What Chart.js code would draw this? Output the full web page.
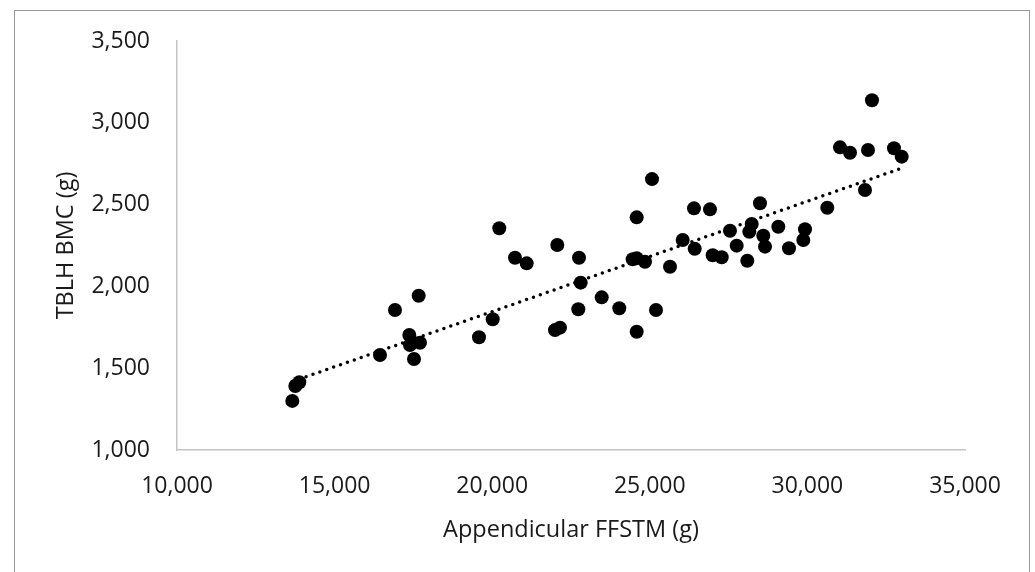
<!DOCTYPE html>
<html>
<head>
<meta charset="utf-8">
<script src="https://cdn.jsdelivr.net/npm/chart.js@4.4.1/dist/chart.umd.min.js"></script>
<style>
  html, body { margin: 0; padding: 0; background: #fff; }
  #wrap { position: relative; width: 1035px; height: 572px; overflow: hidden; }
  #frame { position: absolute; left: 14px; top: 10px; width: 1016px; height: 600px; border: 1px solid #9a9a9a; box-sizing: border-box; }
  #chart { position: absolute; left: 0; top: 0; }
</style>
</head>
<body>
<div id="wrap">
  <div id="frame"></div>
  <canvas id="chart" width="1035" height="572"></canvas>
</div>
<script>
// Appendicular FFSTM (g) on x, TBLH BMC (g) on y
const ffstm = [
  13658, 13753, 13880, 16440, 16916, 17370, 17392, 17519, 17709, 17668,
  19581, 20016, 20225, 20723, 21094, 21992, 22151, 22065, 22754, 22808,
  22732, 23474, 24032, 24584, 24584, 25070, 24457, 24584, 24848, 25197,
  25641, 26044, 26424, 26402, 26910, 26995, 27281, 27544, 27757, 28093,
  28157, 28233, 28496, 28601, 28655, 29077, 29416, 29870, 29924, 30631,
  31034, 31352, 31827, 31923, 32049, 32747, 32992
];
const bmc = [
  1300, 1391, 1414, 1581, 1856, 1703, 1642, 1556, 1656, 1943,
  1689, 1799, 2355, 2175, 2141, 1733, 1748, 2253, 2175, 2023,
  1860, 1933, 1866, 1723, 2422, 2656, 2166, 2172, 2151, 1856,
  2120, 2284, 2230, 2477, 2471, 2190, 2178, 2340, 2249, 2157,
  2334, 2381, 2508, 2310, 2243, 2365, 2233, 2284, 2349, 2481,
  2850, 2817, 2589, 2834, 3138, 2844, 2793
];

const xTicks = [10000, 15000, 20000, 25000, 30000, 35000];
const yTicks = [1000, 1500, 2000, 2500, 3000, 3500];

const points = ffstm.map((x, i) => ({ x: x, y: bmc[i] }));

// linear trendline (least squares)
const n = ffstm.length;
const mx = ffstm.reduce((a, b) => a + b, 0) / n;
const my = bmc.reduce((a, b) => a + b, 0) / n;
let sxy = 0, sxx = 0;
for (let i = 0; i < n; i++) {
  sxy += (ffstm[i] - mx) * (bmc[i] - my);
  sxx += (ffstm[i] - mx) * (ffstm[i] - mx);
}
const slope = sxy / sxx;
const icpt = my - slope * mx;
const xMin = Math.min(...ffstm), xMax = Math.max(...ffstm);
const trend = [
  { x: xMin, y: icpt + slope * xMin },
  { x: xMax, y: icpt + slope * xMax }
];

const fmt = v => v.toLocaleString('en-US');
const tickFont = { family: 'Open Sans', size: 23 };
const titleFont = { family: 'Open Sans', size: 23.5 };

new Chart(document.getElementById('chart'), {
  type: 'scatter',
  data: {
    datasets: [
      {
        data: points,
        backgroundColor: '#000',
        borderWidth: 0,
        pointRadius: 7,
        pointHoverRadius: 7
      },
      {
        type: 'line',
        data: trend,
        borderColor: '#000',
        borderWidth: 3.5,
        borderDash: [0, 7.3],
        borderCapStyle: 'round',
        pointRadius: 0,
        fill: false
      }
    ]
  },
  options: {
    responsive: false,
    animation: false,
    layout: { padding: { left: 0, right: 70, top: 41, bottom: 0 } },
    plugins: { legend: { display: false }, tooltip: { enabled: false } },
    scales: {
      x: {
        type: 'linear',
        min: 10000,
        max: 35000,
        afterBuildTicks: s => { s.ticks = xTicks.map(v => ({ value: v })); },
        afterFit: s => { s.height = 122; },
        grid: { display: false, drawTicks: false },
        border: { display: true, color: '#c4c4c4', width: 1.5 },
        ticks: { color: '#1a1a1a', font: tickFont, padding: 23, callback: v => fmt(v), maxRotation: 0 },
        title: { display: true, text: 'Appendicular FFSTM (g)', color: '#1a1a1a', font: titleFont, padding: { top: 0, bottom: 28 } }
      },
      y: {
        type: 'linear',
        min: 1000,
        max: 3500,
        afterBuildTicks: s => { s.ticks = yTicks.map(v => ({ value: v })); },
        afterFit: s => { s.width = 177; },
        grid: { display: false, drawTicks: false },
        border: { display: true, color: '#c4c4c4', width: 1.5 },
        ticks: { color: '#1a1a1a', font: tickFont, padding: 27, callback: v => fmt(v) },
        title: { display: true, text: 'TBLH BMC (g)', color: '#1a1a1a', font: titleFont, padding: { top: 52, bottom: 0 } }
      }
    }
  }
});
</script>
</body>
</html>
